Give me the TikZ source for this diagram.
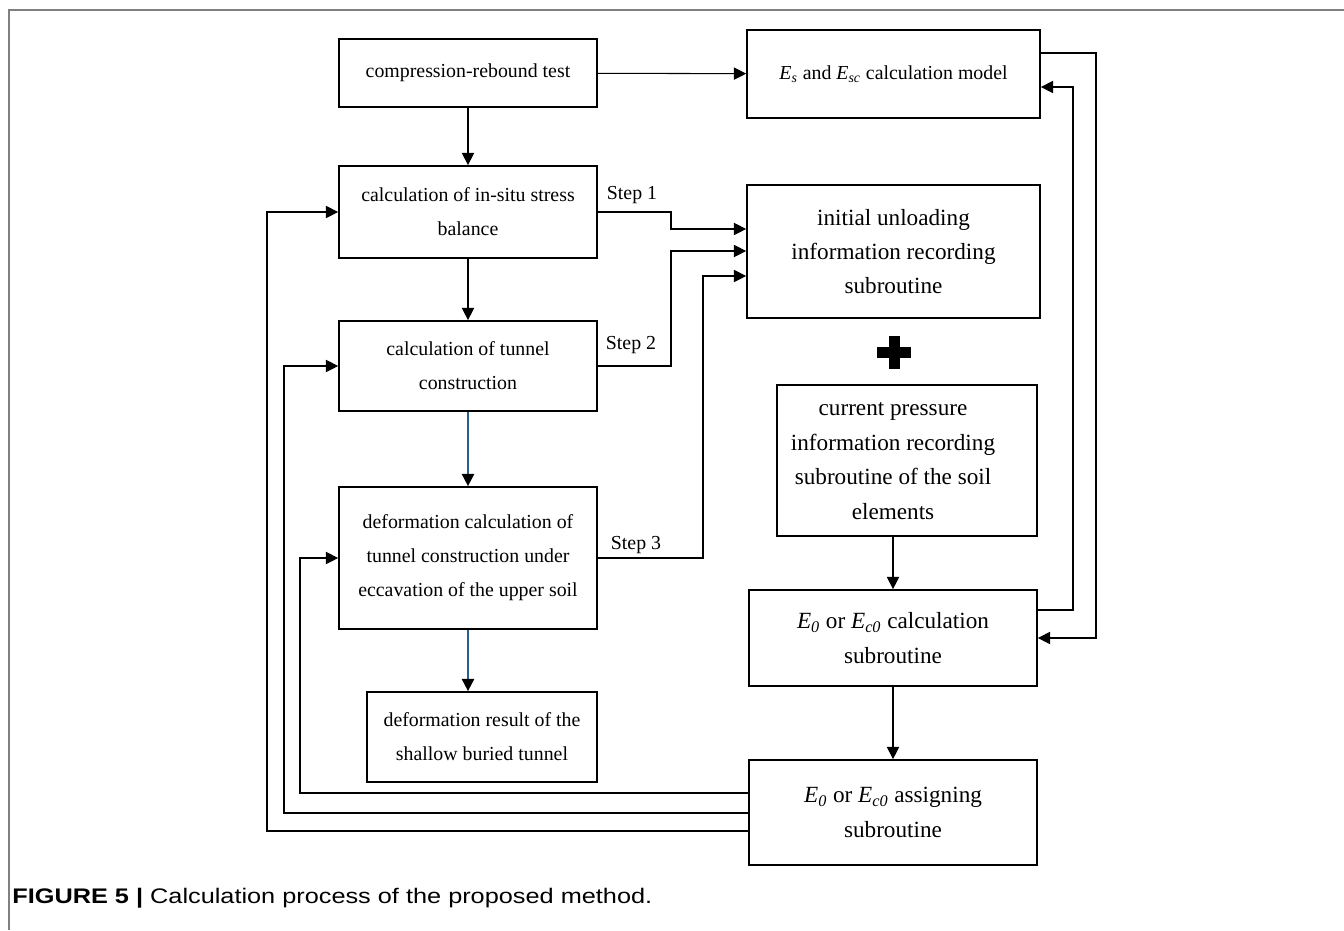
\documentclass[tikz,border=0pt]{standalone}
\usepackage{fontspec}
\setmainfont{Liberation Serif}
\newfontfamily\boxfont{Liberation Serif}
\newfontfamily\capfont[FakeStretch=1.2]{Liberation Sans}
\usetikzlibrary{arrows.meta}
\definecolor{linkblue}{RGB}{40,95,140}

\begin{document}
\begin{tikzpicture}[x=0.02cm, y=-0.02cm,
    process/.style ={rectangle, draw, line width=1pt, inner sep=0pt, align=center,
                     font=\boxfont\fontsize{11.3}{19.4}\selectfont},
    subroutine/.style ={process, font=\boxfont\fontsize{13.2}{19.6}\selectfont},
    flow/.style ={line width=0.6pt, -{Triangle[length=7pt,width=7pt]}},
    blueflow/.style ={draw=linkblue, line width=1pt, -{Triangle[length=7pt,width=7pt,black]}}]
   \useasboundingbox (0,0) rectangle (1344,930);
   \draw[gray, line width=1pt] (9,930) -- (9,10) -- (1344,10);
   % left column
   \node[process, minimum width=5.16cm, minimum height=1.36cm] (test) at (468,73) {compression-rebound test};
   \node[process, minimum width=5.16cm, minimum height=1.84cm] (balance) at (468,212) {calculation of in-situ stress\\balance};
   \node[process, minimum width=5.16cm, minimum height=1.80cm] (tunnel) at (468,366) {calculation of tunnel\\construction};
   \node[process, minimum width=5.16cm, minimum height=2.84cm] (excavation) at (468,558) {deformation calculation of\\tunnel construction under\\eccavation of the upper soil};
   \node[process, minimum width=4.60cm, minimum height=1.80cm] (result) at (482,737) {deformation result of the\\shallow buried tunnel};
   % right column
   \node[process, minimum width=5.86cm, minimum height=1.76cm] (model) at (893.5,74) {\textit{E}\textsubscript{\textit{s}} and \textit{E}\textsubscript{\textit{sc}} calculation model};
   \node[subroutine, minimum width=5.86cm, minimum height=2.66cm] (unloading) at (893.5,251.5) {initial unloading\\information recording\\subroutine};
   \node[subroutine, minimum width=5.20cm, minimum height=3.02cm] (pressure) at (907,460.5)
      {\hspace*{-0.28cm}\begin{tabular}{@{}c@{}}current pressure\\information recording\\subroutine of the soil\\elements\end{tabular}\hspace*{0.28cm}};
   \node[subroutine, minimum width=5.76cm, minimum height=1.92cm] (calc) at (893,638) {\textit{E}\textsubscript{\textit{0}} or \textit{E}\textsubscript{\textit{c0}} calculation\\subroutine};
   \node[subroutine, minimum width=5.76cm, minimum height=2.10cm] (assign) at (893,812.5) {\textit{E}\textsubscript{\textit{0}} or \textit{E}\textsubscript{\textit{c0}} assigning\\subroutine};
   \fill (889,336) rectangle (900,369);
   \fill (877,347) rectangle (911,358);
   % main flow
   \draw[flow] (test) -- (model);
   \draw[flow] (test) -- (balance);
   \draw[flow] (balance) -- (tunnel);
   \draw[blueflow] (tunnel) -- (excavation);
   \draw[blueflow] (excavation.south) -- (excavation.south |- result.north);
   \draw[flow] (calc.north |- pressure.south) -- (calc);
   \draw[flow] (calc) -- (assign);
   % steps
   \coordinate (s1) at (671,229);
   \coordinate (s2) at (671,251);
   \coordinate (s3) at (703,276);
   \draw[flow] (balance.east) -| (s1) -- (s1 -| unloading.west);
   \draw[flow] (tunnel.east) -| (s2) -- (s2 -| unloading.west);
   \draw[flow] (excavation.east) -| (s3) -- (s3 -| unloading.west);
   \node[font=\boxfont\fontsize{11.3}{12}\selectfont] (step1) at (632,195) {Step 1};
   \node[font=\boxfont\fontsize{11.3}{12}\selectfont] (step2) at (631,345) {Step 2};
   \node[font=\boxfont\fontsize{11.3}{12}\selectfont] (step3) at (636,545) {Step 3};
   % feedback right
   \coordinate (r1) at (1096,53);
   \coordinate (r2) at (1073,87);
   \coordinate (r3) at (1073,610);
   \draw[flow] (r1 -| model.east) -- (r1) |- (calc.east);
   \draw[flow] (r3 -| calc.east) -- (r3) -- (r2) -- (r2 -| model.east);
   % feedback left
   \coordinate (l1) at (300,793);
   \coordinate (l2) at (284,813);
   \coordinate (l3) at (267,831);
   \draw[flow] (l1 -| assign.west) -- (l1) |- (excavation.west);
   \draw[flow] (l2 -| assign.west) -- (l2) |- (tunnel.west);
   \draw[flow] (l3 -| assign.west) -- (l3) |- (balance.west);
   \node[anchor=base west, inner sep=0pt, font=\capfont\fontsize{12}{14}\selectfont] (caption) at (12,903) {\textbf{FIGURE 5 |} Calculation process of the proposed method.};
\end{tikzpicture}
\end{document}
